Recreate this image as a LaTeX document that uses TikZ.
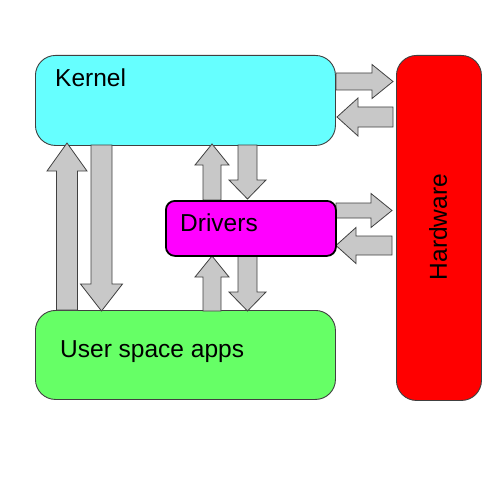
\documentclass[tikz,border=0pt]{standalone}
\usepackage{fontspec}
\setmainfont{Liberation Sans}
\definecolor{kcyan}{HTML}{66FFFF}
\definecolor{ugreen}{HTML}{66FF66}
\definecolor{dmag}{HTML}{FF00FF}
\definecolor{hred}{HTML}{FF0000}
\definecolor{agray}{HTML}{C8C8C8}
\definecolor{edge}{HTML}{404040}
\newcommand\barr[7]{%
  \draw[barrow,shift={(#1,#2)},rotate=#3]
    (0,-#5) -- ({#4-#7},-#5) -- ({#4-#7},-#6) -- (#4,0) -- ({#4-#7},#6) -- ({#4-#7},#5) -- (0,#5) -- cycle;}
\begin{document}
\begin{tikzpicture}[x=1pt,y=-1pt,
  box/.style={draw=edge,line width=0.9pt,rounded corners=20pt,anchor=north west,inner sep=0pt},
  barrow/.style={draw=edge,fill=agray,line width=0.8pt,line join=miter},
  lbl/.style={font=\fontsize{24.5}{28}\selectfont,inner sep=0pt}]
\useasboundingbox (0,0) rectangle (500,500);
\fill[white] (0,0) rectangle (500,500);
% boxes
\node[box,fill=kcyan,minimum width=300pt,minimum height=90pt] (kernel) at (35,55) {};
\node[box,fill=ugreen,minimum width=300pt,minimum height=89pt] (user) at (35,310) {};
\node[box,fill=hred,minimum width=85pt,minimum height=345pt] (hw) at (396,55) {};
% arrows kernel <-> user
\barr{67}{310}{90}{167}{10.5}{20}{28}
\barr{101.5}{145}{-90}{166}{10.5}{21}{27}
% kernel <-> drivers
\barr{212}{200}{90}{56}{9}{17}{21}
\barr{247.5}{145}{-90}{54}{9.5}{18.5}{19}
% drivers <-> user
\barr{212}{311}{90}{55}{9}{17}{21}
\barr{247.5}{255}{-90}{56}{9.5}{18.5}{19}
% kernel <-> hardware
\barr{336}{81.5}{0}{57}{8.5}{17}{21}
\barr{393}{117}{180}{56}{10}{19}{21}
% drivers <-> hardware
\barr{336}{210.5}{0}{56}{7.5}{17}{21}
\barr{392}{245.5}{180}{56}{9.5}{18}{20}
\node[box,draw=black,line width=1.8pt,rounded corners=9pt,fill=dmag,minimum width=170pt,minimum height=55pt] (drv) at (165,200) {};
% labels
\node[lbl,anchor=base west] (kt) at (55,87) {Kernel};
\node[lbl,anchor=base west] (dt) at (180,231) {Drivers};
\node[lbl,anchor=base west] (ut) at (60,357) {User space apps};
\node[lbl,rotate=90] (ht) at (438,227) {Hardware};
\end{tikzpicture}
\end{document}
